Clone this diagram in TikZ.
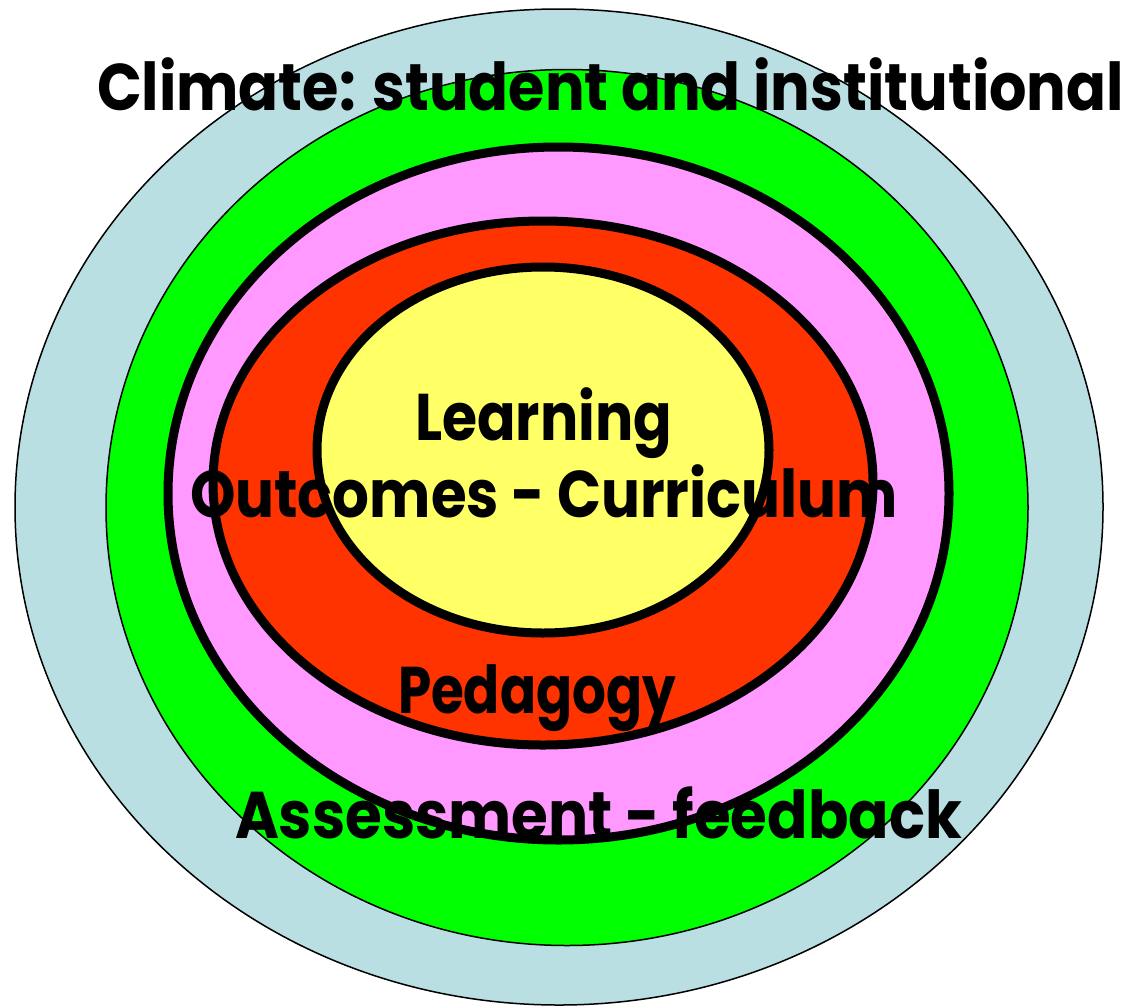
\documentclass[tikz,border=0pt]{standalone}
\usepackage{fontspec}
\usepackage{graphicx}
\setmainfont{Poppins}
\usetikzlibrary{shapes.geometric}

\definecolor{climateblue}{HTML}{B9DFE3}
\definecolor{assessgreen}{HTML}{00FF00}
\definecolor{pedpink}{HTML}{FF99FF}
\definecolor{outred}{HTML}{FF3300}
\definecolor{learnyellow}{HTML}{FFFF66}

% stretch a label horizontally so its box is exactly #1 wide
\newlength\labelnatw
\newcommand\fitlabel[2]{%
  \settowidth\labelnatw{#2}%
  \scalebox{\fpeval{(#1)/(\the\labelnatw)}}[1]{#2}}

\tikzset{
  ring/.style={ellipse, draw=black, inner sep=0pt, outer sep=0pt},
  thinring/.style={ring, line width=1.5pt},
  thickring/.style={ring, line width=9pt},
  label/.style={anchor=base west, inner sep=0pt, outer sep=0pt,
    font=\fontsize{66}{70}\selectfont\bfseries}
}

\begin{document}
\begin{tikzpicture}[x=1pt, y=-1pt]
  \useasboundingbox (0,0) rectangle (1126,1007);

  % concentric layers, outermost first
  \node[thinring, fill=climateblue, minimum width=1088pt, minimum height=996pt]
    (climate) at (559,507) {};
  \node[thinring, fill=assessgreen, minimum width=922pt, minimum height=876pt]
    (assessment) at (567,507.5) {};
  \node[thickring, fill=pedpink, minimum width=781pt, minimum height=693pt]
    (pedagogy) at (558.5,493.5) {};
  \node[thickring, fill=outred, minimum width=660pt, minimum height=524pt]
    (outcomes) at (543,483) {};
  \node[thickring, fill=learnyellow, minimum width=452pt, minimum height=366pt]
    (learning) at (543,450) {};

  % layer captions
  \node[label] (climatetext) at (97,110)
    {\fitlabel{1027pt}{Climate: student and institutional}};
  \node[label] (learningtext) at (415,440) {\fitlabel{257pt}{Learning}};
  \node[label] (outcomestext) at (190,517)
    {\fitlabel{708pt}{Outcomes - Curriculum}};
  \node[label] (pedagogytext) at (398,713) {\fitlabel{278pt}{Pedagogy}};
  \node[label] (assessmenttext) at (235,838)
    {\fitlabel{727pt}{Assessment - feedback}};
\end{tikzpicture}
\end{document}
